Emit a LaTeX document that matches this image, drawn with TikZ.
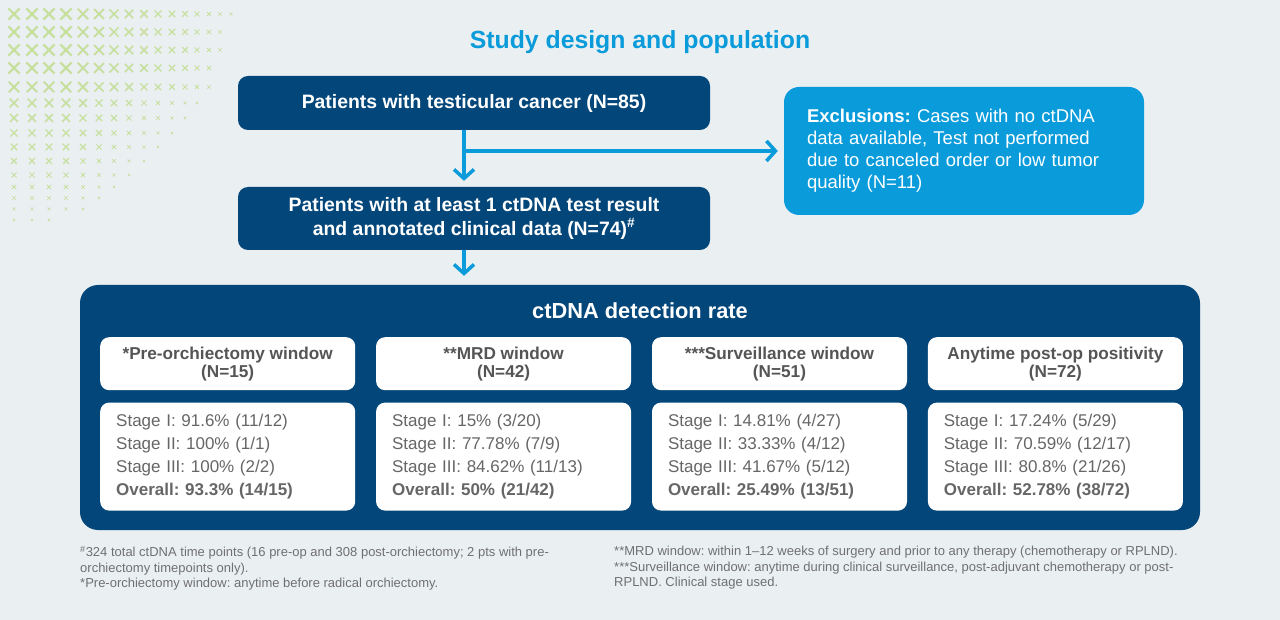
\documentclass[tikz,border=0pt]{standalone}
\usepackage{fontspec}
\setmainfont{Liberation Sans}
\usetikzlibrary{positioning,arrows.meta}
\frenchspacing

\definecolor{pagebg}{HTML}{EAEFF2}
\definecolor{navy}{HTML}{03467A}
\definecolor{skyblue}{HTML}{0A9BDB}
\definecolor{leaf}{HTML}{C7DF9F}
\definecolor{bodygray}{HTML}{666666}
\definecolor{headgray}{HTML}{555555}
\definecolor{notegray}{HTML}{707070}

\tikzset{
    flowbox/.style={fill=navy, rounded corners=10pt, text=white,
        font=\fontsize{19.4}{24}\selectfont\bfseries, align=center,
        minimum width=472pt, inner sep=0pt},
    exclbox/.style={fill=skyblue, rounded corners=15pt, text=white,
        font=\fontsize{18.5}{22}\selectfont, align=left, text width=314pt,
        inner xsep=23pt, inner ysep=0pt, minimum height=128pt},
    headbox/.style={fill=white, rounded corners=9pt, text=headgray,
        font=\fontsize{17.2}{18}\selectfont\bfseries, align=center,
        minimum width=255pt, minimum height=53pt, inner sep=0pt},
    ratebox/.style={fill=white, rounded corners=9pt, text=bodygray,
        font=\fontsize{17}{23}\selectfont, align=left, text width=223pt,
        inner xsep=16pt, inner ysep=0pt, minimum height=108pt},
    flowarrow/.style={draw=skyblue, line width=3.5pt,
        -{Straight Barb[length=9pt,width=20pt]}},
    note/.style={text=notegray, font=\fontsize{13}{15.5}\selectfont,
        align=left, anchor=north west, inner sep=0pt}
}

\begin{document}
\begin{tikzpicture}[x=1pt, y=-1pt]
    \useasboundingbox (0,0) rectangle (1280,620);
    \fill[pagebg] (0,0) rectangle (1280,620);

    % corner pattern
    \foreach \yy/\nn [count=\j from 0] in {14/16,32/15,50/15,68/14,87/14,103/13,118/12,133/11,147/10,161/9,175/8,187/7,198/6,209/5,220/3}{
        \foreach \xx [count=\i from 0] in {14,32,49,66,83,99,114,129,144,158,172,185,197,209,220,231}{
            \ifnum\i<\nn
                \pgfmathsetmacro{\s}{max(0.9,5.6-0.35*max(0,\i-3)-0.35*max(0,\j-3)-0.6*(\j>4))}
                \pgfmathsetmacro{\lw}{0.38*\s}
                \draw[leaf, line width=\lw pt] (\xx-\s,\yy-\s) -- (\xx+\s,\yy+\s)
                    (\xx-\s,\yy+\s) -- (\xx+\s,\yy-\s);
            \fi
        }
    }

    \node[text=skyblue, font=\fontsize{24.8}{28}\selectfont\bfseries] (studytitle) at (640,42) {Study design and population};

    \node[flowbox, minimum height=54pt] (cancer) at (474,103) {Patients with testicular cancer (N=85)};
    \node[flowbox, minimum height=63pt] (annotated) at (474,218.5) {Patients with at least 1 ctDNA test result\\ and annotated clinical data (N=74)\textsuperscript{\#}};
    \node[exclbox] (exclusions) at (964,151) {\textbf{Exclusions:} Cases with no ctDNA\\ data available, Test not performed\\ due to canceled order or low tumor\\ quality (N=11)};

    \node[fill=navy, rounded corners=18pt, minimum width=1120pt, minimum height=245pt] (detection) at (640,407.5) {};
    \node[text=white, font=\fontsize{21.8}{26}\selectfont\bfseries] (ratetitle) at (640,311) {ctDNA detection rate};

    \coordinate (split) at (464,151);
    \draw[flowarrow, shorten >=6pt] (cancer.south -| split) -- (annotated.north -| split);
    \draw[flowarrow, shorten >=6pt] (split) -- (exclusions.west |- split);
    \draw[flowarrow, shorten >=9pt] (annotated.south -| split) -- (detection.north -| split);

    % windows
    \node[headbox, anchor=north west] (prehead) at (100,337) {*Pre-orchiectomy window\\ (N=15)};
    \node[headbox, right=20.5pt of prehead] (mrdhead) {**MRD window\\ (N=42)};
    \node[headbox, right=20.5pt of mrdhead] (survhead) {***Surveillance window\\ (N=51)};
    \node[headbox, right=20.5pt of survhead] (anyhead) {Anytime post-op positivity\\ (N=72)};

    \node[ratebox, below=12pt of prehead] (prerate) {Stage I: 91.6\% (11/12)\\ Stage II: 100\% (1/1)\\ Stage III: 100\% (2/2)\\ \textbf{Overall: 93.3\% (14/15)}};
    \node[ratebox, below=12pt of mrdhead] (mrdrate) {Stage I: 15\% (3/20)\\ Stage II: 77.78\% (7/9)\\ Stage III: 84.62\% (11/13)\\ \textbf{Overall: 50\% (21/42)}};
    \node[ratebox, below=12pt of survhead] (survrate) {Stage I: 14.81\% (4/27)\\ Stage II: 33.33\% (4/12)\\ Stage III: 41.67\% (5/12)\\ \textbf{Overall: 25.49\% (13/51)}};
    \node[ratebox, below=12pt of anyhead] (anyrate) {Stage I: 17.24\% (5/29)\\ Stage II: 70.59\% (12/17)\\ Stage III: 80.8\% (21/26)\\ \textbf{Overall: 52.78\% (38/72)}};

    % footnotes
    \node[note] (leftnote) at (80,546) {\textsuperscript{\#}324 total ctDNA time points (16 pre-op and 308 post-orchiectomy; 2 pts with pre-\\ orchiectomy timepoints only).\\ *Pre-orchiectomy window: anytime before radical orchiectomy.};
    \node[note] (rightnote) at (614,546) {**MRD window: within 1–12 weeks of surgery and prior to any therapy (chemotherapy or RPLND).\\ ***Surveillance window: anytime during clinical surveillance, post-adjuvant chemotherapy or post-\\ RPLND. Clinical stage used.};
\end{tikzpicture}
\end{document}
